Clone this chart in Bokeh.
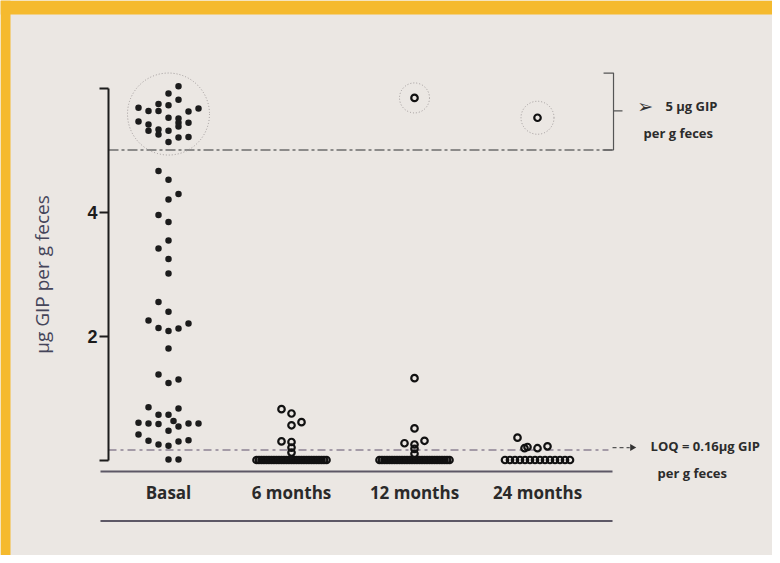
import math
from bokeh.plotting import figure
from bokeh.models import Range1d, LinearAxis, FixedTicker, BoxAnnotation
from bokeh.core.properties import value
from bokeh.embed import file_html
from bokeh.resources import INLINE

# ---------------- data ----------------
categories = ["Basal", "6 months", "12 months", "24 months"]
y_ticks = [0, 2, 4, 6]
upper_threshold = 5.0
loq = 0.16

# Basal (filled dots); slot = horizontal jitter column within the category
basal_values = [6.03, 5.91, 5.81, 5.68, 5.63, 5.74, 5.63, 5.72, 5.62, 5.67,
                5.52, 5.51, 5.46, 5.41, 5.31, 5.33, 5.25, 5.31, 5.44, 5.38,
                5.44, 5.20, 5.21, 5.13,
                4.66, 4.52, 4.29, 4.20, 3.95, 3.84, 3.54, 3.41, 3.24, 3.01,
                2.55, 2.39, 2.25, 2.13, 2.08, 2.12, 2.20, 1.80,
                1.38, 1.24, 1.30, 0.85, 0.83, 0.73, 0.73, 0.60, 0.59, 0.58,
                0.63, 0.54, 0.59, 0.59, 0.47, 0.41, 0.31, 0.25, 0.23, 0.30,
                0.32, 0.01, 0.01]
basal_slots = [1, 0, 1, -3, -2, -1, -1, 0, 2, 3,
               0, 1, -3, -2, -2, -1, -1, 0, 1, 1,
               2, 1, 2, 0,
               -1, 0, 1, 0, -1, 0, 0, -1, 0, 0,
               -1, 0, -2, -1, 0, 1, 2, 0,
               -1, 0, 1, -2, 1, -1, 0, -3, -2, -1,
               0.5, 1, 2, 3, 0, -3, -2, -1, 0, 1,
               2, 0, 1]

m6_values = [0.82, 0.75, 0.61, 0.56, 0.30, 0.29, 0.20, 0.12,
             0.0, 0.0, 0.0, 0.0, 0.0, 0.0, 0.0, 0.0, 0.0, 0.0,
             0.0, 0.0, 0.0, 0.0, 0.0, 0.0, 0.0, 0.0, 0.0, 0.0,
             0.0, 0.0, 0.0, 0.0, 0.0, 0.0, 0.0, 0.0, 0.0]
m6_slots = [-1, 0, 1, 0, -1, 0, 0, 0,
            -3.5, -3.25, -3.0, -2.75, -2.5, -2.25, -2.0, -1.75, -1.5, -1.25,
            -1.0, -0.75, -0.5, -0.25, 0.0, 0.25, 0.5, 0.75, 1.0, 1.25,
            1.5, 1.75, 2.0, 2.25, 2.5, 2.75, 3.0, 3.25, 3.5]

m12_values = [5.84, 1.32, 0.51, 0.27, 0.25, 0.31, 0.18, 0.10,
              0.0, 0.0, 0.0, 0.0, 0.0, 0.0, 0.0, 0.0, 0.0, 0.0,
              0.0, 0.0, 0.0, 0.0, 0.0, 0.0, 0.0, 0.0, 0.0, 0.0,
              0.0, 0.0, 0.0, 0.0, 0.0, 0.0, 0.0, 0.0, 0.0]
m12_slots = [0, 0, 0, -1, 0, 1, 0, 0,
             -3.5, -3.25, -3.0, -2.75, -2.5, -2.25, -2.0, -1.75, -1.5, -1.25,
             -1.0, -0.75, -0.5, -0.25, 0.0, 0.25, 0.5, 0.75, 1.0, 1.25,
             1.5, 1.75, 2.0, 2.25, 2.5, 2.75, 3.0, 3.25, 3.5]

m24_values = [5.52, 0.36, 0.19, 0.21, 0.19, 0.22,
              0.0, 0.0, 0.0, 0.0, 0.0, 0.0, 0.0,
              0.0, 0.0, 0.0, 0.0, 0.0, 0.0, 0.0]
m24_slots = [0, -2, -1.3, -1.0, 0, 1,
             -3.25, -2.75, -2.25, -1.75, -1.25, -0.75, -0.25,
             0.25, 0.75, 1.25, 1.75, 2.25, 2.75, 3.25]

# ---------------- style / layout ----------------
W, H = 772, 555
PX_X = 123.0           # px per category
PX_Y = 62.0            # px per unit
CAT0_PX = 168.0        # canvas x of first category
ZERO_PX = 459.5        # canvas y of value 0
X0 = -CAT0_PX / PX_X
X1 = (W - CAT0_PX) / PX_X
Y1 = ZERO_PX / PX_Y
Y0 = -(H - ZERO_PX) / PX_Y
SLOT = 10.0 / PX_X
AXIS_X = -60.0 / PX_X
XAXIS_Y = -0.18
RULE2_Y = -0.985
LINE_L, LINE_R = -0.553, 3.61

BG = "#ebe7e3"
ORANGE = "#f5ba2e"
INK = "#1c1c1c"

p = figure(width=W, height=H, x_range=Range1d(X0, X1), y_range=Range1d(Y0, Y1),
           x_axis_type=None, y_axis_type=None, output_backend="svg",
           toolbar_location=None, min_border=0,
           background_fill_color=BG, border_fill_color=BG, outline_line_color=None)

# slide frame bands
p.add_layout(BoxAnnotation(bottom=Y1 - 14 / PX_Y, fill_color=ORANGE, fill_alpha=1,
                           line_color=None, level="underlay"))
p.add_layout(BoxAnnotation(right=X0 + 10 / PX_X, fill_color=ORANGE, fill_alpha=1,
                           line_color=None, level="underlay"))

# y axis
yaxis = LinearAxis(fixed_location=AXIS_X, ticker=FixedTicker(ticks=y_ticks),
                   bounds=(y_ticks[0], y_ticks[-1]),
                   major_label_overrides={y_ticks[0]: "", y_ticks[-1]: ""},
                   axis_label="µg GIP per g feces",
                   axis_label_text_font="Open Sans", axis_label_text_font_size="19px",
                   axis_label_text_font_style="normal", axis_label_text_color="#45455a",
                   axis_label_standoff=29,
                   major_label_text_font="Liberation Sans",
                   major_label_text_font_size="18px", major_label_text_font_style="bold",
                   major_label_text_color=INK,
                   major_label_standoff=2,
                   axis_line_color=INK, axis_line_width=2,
                   major_tick_line_color=INK, major_tick_line_width=2,
                   major_tick_out=9, major_tick_in=0,
                   minor_tick_out=0, minor_tick_in=0)
p.add_layout(yaxis, "left")

# x axis
xaxis = LinearAxis(fixed_location=XAXIS_Y, ticker=FixedTicker(ticks=list(range(len(categories)))),
                   bounds=(LINE_L, LINE_R),
                   major_label_overrides={i: c for i, c in enumerate(categories)},
                   major_label_text_font="Open Sans", major_label_text_font_size="17px",
                   major_label_text_font_style="bold", major_label_text_color="#2a2a2a",
                   major_label_standoff=10,
                   axis_line_color="#5d5866", axis_line_width=2,
                   major_tick_out=0, major_tick_in=0, minor_tick_out=0, minor_tick_in=0)
p.add_layout(xaxis, "below")

# second rule under the category labels
p.segment(x0=[LINE_L], y0=[RULE2_Y], x1=[LINE_R], y1=[RULE2_Y],
          line_color="#5d5866", line_width=2)

# reference lines
p.segment(x0=[AXIS_X], y0=[upper_threshold], x1=[3.618], y1=[upper_threshold],
          line_color="#6e6e6e", line_width=1.5, line_dash="10 3 3 3")
p.segment(x0=[AXIS_X], y0=[loq], x1=[3.577], y1=[loq],
          line_color="#8d8394", line_width=1.5, line_dash="8 4 3 4")

# points
def xs(idx, slots):
    return [idx + s * SLOT for s in slots]

p.scatter(xs(0, basal_slots), basal_values, marker="circle", size=6.5,
          fill_color=INK, line_color=None)
for idx, vals, slots in [(1, m6_values, m6_slots), (2, m12_values, m12_slots),
                         (3, m24_values, m24_slots)]:
    p.scatter(xs(idx, slots), vals, marker="circle", size=6.5,
              fill_color=None, line_color="#111111", line_width=2.2)

# highlight circles for values above the threshold
hx, hy, hs = [], [], []
for idx, vals, sz in [(0, basal_values, 82), (2, m12_values, 30), (3, m24_values, 33)]:
    hi = [v for v in vals if v > upper_threshold]
    hx.append(idx)
    hy.append((min(hi) + max(hi)) / 2)
    hs.append(sz)
p.scatter(hx, hy, marker="circle", size=hs, fill_color=None,
          line_color="#a09a9a", line_width=1, line_dash="1 2")

# bracket for > 5
bx = 3.618
p.multi_line(xs=[[3.537, bx, bx, 3.537], [bx, 3.691]],
             ys=[[6.24, 6.24, upper_threshold, upper_threshold], [5.63, 5.63]],
             line_color="#555555", line_width=1.2)
p.text(x=[3.875], y=[5.71], text=["➢"], text_font=value("DejaVu Sans"),
       text_font_size="19px", text_color="#333333", text_align="center",
       text_baseline="middle")
p.text(x=[4.04, 3.862], y=[5.71, 5.27], text=["5 µg GIP", "per g feces"],
       text_font=value("Open Sans"), text_font_size="13px", text_font_style="bold",
       text_color="#2c2c2c", text_align="left", text_baseline="middle")

# LOQ arrow
p.segment(x0=[3.61], y0=[0.2], x1=[3.75], y1=[0.2], line_color="#555555",
          line_width=1.2, line_dash="4 3")
p.scatter(x=[3.77], y=[0.2], marker="triangle", angle=-math.pi / 2, size=7,
          fill_color="#333333", line_color=None)
p.text(x=[3.919, 3.976], y=[0.23, -0.21], text=["LOQ = 0.16µg GIP", "per g feces"],
       text_font=value("Open Sans"), text_font_size="13px", text_font_style="bold",
       text_color="#2c2c2c", text_align="left", text_baseline="middle")

open("out.html", "w").write(file_html(p, INLINE))
